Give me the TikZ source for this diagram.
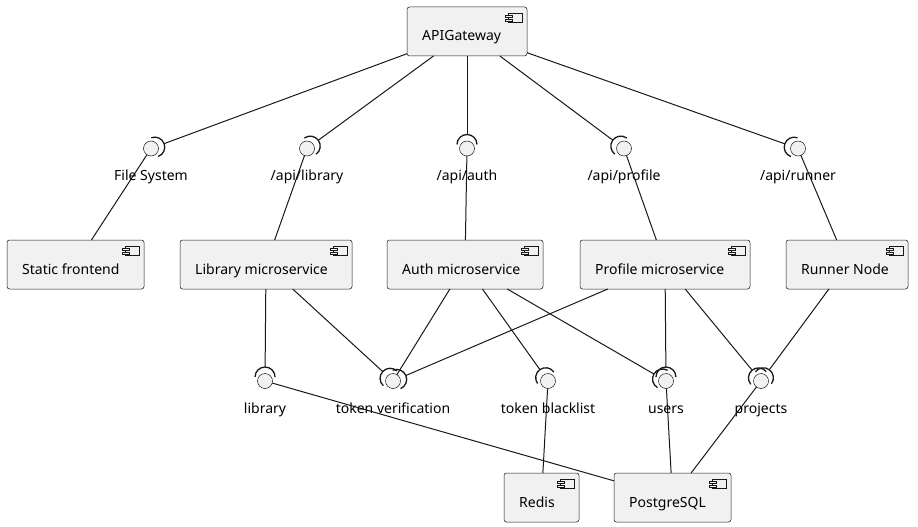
\documentclass[tikz,border=0pt]{standalone}
\usepackage{fontspec}
\setmainfont{Noto Sans}
\usetikzlibrary{calc}
\definecolor{fillc}{HTML}{F1F1F1}
\definecolor{linec}{HTML}{181818}
\tikzset{
  compbox/.style={draw=linec, line width=0.5pt, fill=fillc, rounded corners=2.5pt, minimum height=49pt, inner sep=0pt, outer sep=0pt, anchor=north west},
  comptext/.style={font=\fontsize{14}{16}\selectfont, text=black, inner sep=0pt, anchor=base west},
  iconbox/.style={draw=linec, line width=0.5pt, fill=fillc},
  iface/.style={circle, draw=linec, line width=0.5pt, fill=fillc, minimum size=15pt, inner sep=0pt, outer sep=0pt},
  ifacetext/.style={font=\fontsize{14}{16}\selectfont, text=black, inner sep=0pt, anchor=base},
  conn/.style={draw=linec, line width=1pt},
  sockarc/.style={draw=linec, line width=1.3pt, x=1pt, y=1pt},
}
\newcommand\mycomp[5]{%
  \node[compbox, minimum width=#4pt] (#1) at (#2,#3) {};
  \node[comptext] (#1-label) at ($(#1.north west)+(15,34)$) {#5};
  \draw[iconbox] ($(#1.north east)+(-19,6)$) rectangle ($(#1.north east)+(-5,15)$);
  \draw[iconbox] ($(#1.north east)+(-22,8)$) rectangle ($(#1.north east)+(-15,10)$);
  \draw[iconbox] ($(#1.north east)+(-22,12)$) rectangle ($(#1.north east)+(-15,14)$);
}
\newcommand\myiface[4]{%
  \node[iface] (#1) at (#2,#3) {};
  \node[ifacetext] (#1-label) at ($(#1)+(0,32)$) {#4};
}
\newcommand\sock[2]{%
  \draw[conn, shorten >=6.5pt] (#1) -- (#2);
  \draw[sockarc] let \p1=($(#1)-(#2)$), \n1={atan2(\y1,\x1)} in
    ($(#2)+(\n1:4pt)+({\n1-90}:10pt)$) arc[start angle={\n1-90}, delta angle=180, radius=10pt];
}
\newcommand\prov[2]{%
  \draw[conn] (#1) -- (#2);
}
\begin{document}
\begin{tikzpicture}[x=1pt, y=-1pt]
\useasboundingbox (0,0) rectangle (918,527);
% components
\mycomp{gw}{407}{7}{120}{APIGateway}
\mycomp{sf}{7}{240}{137}{Static frontend}
\mycomp{lib}{180}{240}{172}{Library microservice}
\mycomp{auth}{387}{240}{156}{Auth microservice}
\mycomp{prof}{580}{240}{170}{Profile microservice}
\mycomp{run}{786}{240}{122}{Runner Node}
\mycomp{redis}{504}{473}{75}{Redis}
\mycomp{pg}{614}{473}{117}{PostgreSQL}
% interfaces
\myiface{fs}{151}{148.5}{File System}
\myiface{al}{307}{148.5}{/api/library}
\myiface{aa}{467}{148.5}{/api/auth}
\myiface{ap}{624}{148.5}{/api/profile}
\myiface{ar}{798}{148.5}{/api/runner}
\myiface{libi}{265}{381}{library}
\myiface{tv}{393}{381}{token verification}
\myiface{tb}{548}{381}{token blacklist}
\myiface{us}{666}{381}{users}
\myiface{pj}{761}{381}{projects}
% connections
\sock{gw}{fs}
\sock{gw}{al}
\sock{gw}{aa}
\sock{gw}{ap}
\sock{gw}{ar}
\prov{fs}{sf}
\prov{al}{lib}
\prov{aa}{auth}
\prov{ap}{prof}
\prov{ar}{run}
\sock{lib}{libi}
\sock{lib}{tv}
\prov{tv}{auth}
\sock{prof}{tv}
\sock{auth}{tb}
\sock{auth}{us}
\sock{prof}{us}
\sock{prof}{pj}
\sock{run}{pj}
\prov{libi}{pg}
\prov{tb}{redis}
\prov{us}{pg}
\prov{pj}{pg}
\end{tikzpicture}
\end{document}
